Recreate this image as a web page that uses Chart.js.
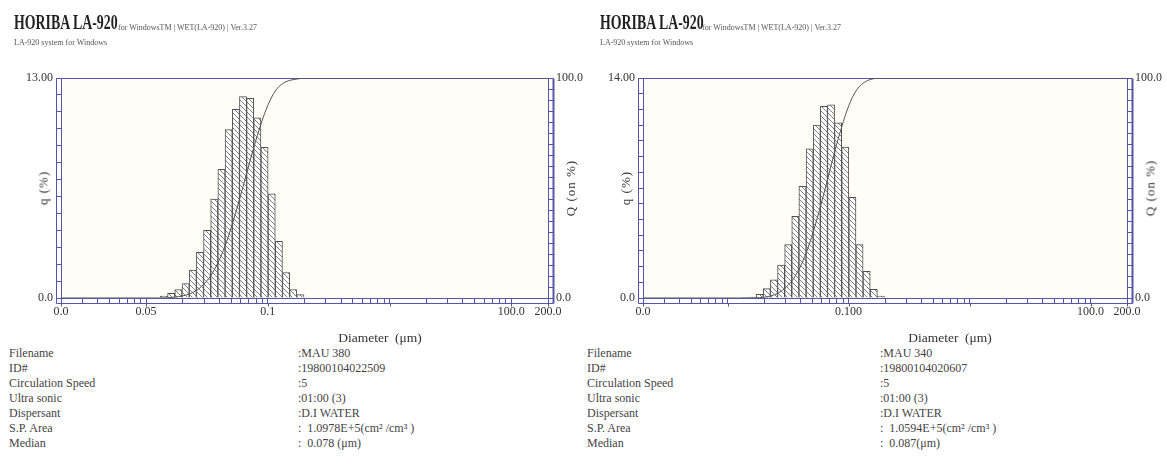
<!DOCTYPE html>
<html>
<head>
<meta charset="utf-8">
<title>HORIBA LA-920</title>
<script src="https://cdn.jsdelivr.net/npm/chart.js"></script>
<style>
  body { margin: 0; background: #fff; }
  #page { position: relative; width: 1167px; height: 466px; overflow: hidden;
          font-family: "Liberation Serif", "DejaVu Serif", serif; color: #333; }
  #page canvas { position: absolute; top: 0; }
  .t { position: absolute; white-space: pre; }
  .brand { font-size: 21px; font-weight: bold; line-height: 21px; color: #222;
           transform: scaleX(0.66); transform-origin: 0 0; }
  .sub { font-size: 8px; line-height: 8px; color: #555; }
  .axt { font-size: 13.5px; line-height: 14px; transform: translate(-50%, -50%); }
  .rot { font-size: 13px; line-height: 13px; letter-spacing: 1px;
         transform: translate(-50%, -50%) rotate(-90deg); }
  .info { font-size: 12px; line-height: 15px; color: #444; }
</style>
</head>
<body>
<div id="page">
  <canvas id="left" width="590" height="340" style="left:0"></canvas>
  <canvas id="right" width="577" height="340" style="left:590px"></canvas>

  <div class="t brand" style="left:14px;top:12px">HORIBA LA-920</div>
  <div class="t sub" style="left:118px;top:24px">for WindowsTM | WET(LA-920) | Ver.3.27</div>
  <div class="t sub" style="left:14px;top:39px">LA-920 system for Windows</div>
  <div class="t brand" style="left:600px;top:12px">HORIBA LA-920</div>
  <div class="t sub" style="left:702px;top:24px">for WindowsTM | WET(LA-920) | Ver.3.27</div>
  <div class="t sub" style="left:600px;top:39px">LA-920 system for Windows</div>

  <div class="t rot" style="left:43px;top:188px">q (%)</div>
  <div class="t rot" style="left:570px;top:188px">Q (on %)</div>
  <div class="t rot" style="left:625px;top:188px">q (%)</div>
  <div class="t rot" style="left:1150px;top:188px">Q (on %)</div>

  <div class="t axt" style="left:380px;top:338px">Diameter  (μm)</div>
  <div class="t axt" style="left:950px;top:338px">Diameter  (μm)</div>

  <div class="t info" style="left:9px;top:346px">Filename
ID#
Circulation Speed
Ultra sonic
Dispersant
S.P. Area
Median</div>
  <div class="t info" style="left:298px;top:346px">:MAU 380
:19800104022509
:5
:01:00 (3)
:D.I WATER
:  1.0978E+5(cm² /cm³ )
:  0.078 (μm)</div>
  <div class="t info" style="left:587px;top:346px">Filename
ID#
Circulation Speed
Ultra sonic
Dispersant
S.P. Area
Median</div>
  <div class="t info" style="left:880px;top:346px">:MAU 340
:19800104020607
:5
:01:00 (3)
:D.I WATER
:  1.0594E+5(cm² /cm³ )
:  0.087(μm)</div>
</div>

<script>
// channel centres (um) of the LA-920 bins that hold particles
const diam = [0.140, 0.161, 0.184, 0.211, 0.242, 0.277, 0.317, 0.363, 0.416, 0.477,
              0.546, 0.626, 0.716, 0.820, 0.939, 1.076, 1.232, 1.411, 1.616, 1.851];
// q (%) per channel
const qLeft  = [0.12, 0.28, 0.5, 0.85, 1.65, 2.7, 4.0, 5.85, 7.6, 9.95,
                11.15, 11.9, 11.8, 10.65, 8.9, 6.15, 3.35, 1.5, 0.5, 0.2];
const qRight = [0.02, 0.06, 0.23, 0.6, 1.15, 2.1, 3.4, 5.2, 7.1, 9.5,
                11.0, 12.2, 12.3, 11.15, 9.6, 6.4, 3.4, 1.7, 0.55, 0.13];
// undersize curve Q (%) at channel edges
const edges = [0.02, 0.131, 0.150, 0.172, 0.197, 0.226, 0.259, 0.296, 0.339, 0.389, 0.445,
               0.510, 0.584, 0.669, 0.766, 0.877, 1.005, 1.151, 1.318, 1.510, 1.729, 1.981, 200];
const cumLeft  = [0, 0, 0.1, 0.4, 0.9, 1.8, 3.4, 6.1, 10.1, 16.0, 23.6,
                  33.5, 44.7, 56.6, 68.4, 79.0, 87.9, 94.1, 97.4, 98.9, 99.5, 100, 100];
const cumRight = [0, 0, 0, 0.1, 0.3, 0.9, 2.1, 4.3, 7.7, 13.0, 20.3,
                  30.0, 41.3, 53.7, 66.3, 77.7, 87.5, 94.1, 97.6, 99.3, 99.9, 100, 100];
// x axis
const xMajor = [0.02, 0.1, 1, 10, 100, 200];
const xLabelsLeft  = ['0.0', '0.05', '0.1', '', '100.0', '200.0'];
const xLabelsRight = ['0.0', '', '0.100', '', '100.0', '200.0'];
const yMaxLeft = 13, yMaxRight = 14;
const yTopLeft = '13.00', yTopRight = '14.00';

const BLUE = '#5454a8';
const BAND = 5;
Chart.defaults.font.family = "'Liberation Serif', serif";
Chart.defaults.font.size = 12;
Chart.defaults.color = '#333';

const xMinor = [];
[0.01, 0.1, 1, 10, 100].forEach(d => {
  for (let m = 2; m <= 9; m++) {
    const v = +(m * d).toPrecision(3);
    if (v > 0.02 && v < 200 && xMajor.indexOf(v) < 0) xMinor.push(v);
  }
});

function hatch() {
  const c = document.createElement('canvas');
  c.width = c.height = 5;
  const g = c.getContext('2d');
  g.fillStyle = '#fff';
  g.fillRect(0, 0, 5, 5);
  g.strokeStyle = '#808080';
  g.lineWidth = 1;
  g.beginPath();
  g.moveTo(-1, -1); g.lineTo(6, 6);
  g.moveTo(4, -1); g.lineTo(6, 1);
  g.moveTo(-1, 4); g.lineTo(1, 6);
  g.stroke();
  return g.createPattern(c, 'repeat');
}

// plot background and the double-lined frame
const frame = {
  id: 'frame',
  beforeDraw(chart) {
    const { ctx, chartArea: a } = chart;
    ctx.save();
    ctx.fillStyle = '#fefef7';
    ctx.fillRect(a.left, a.top, a.right - a.left, a.bottom - a.top);
    ctx.restore();
  },
  beforeDatasetsDraw(chart) {
    const { ctx, chartArea: a } = chart;
    const x = chart.scales.x;
    const L = Math.round(a.left - BAND) + 0.5, R = Math.round(a.right + BAND) + 0.5;
    const T = Math.round(a.top) + 0.5, B = Math.round(a.bottom + BAND) + 0.5;
    ctx.save();
    ctx.strokeStyle = BLUE;
    ctx.lineWidth = 1;
    ctx.beginPath();
    ctx.moveTo(L, T); ctx.lineTo(R, T);
    ctx.moveTo(L, T); ctx.lineTo(L, B);
    ctx.moveTo(L, B); ctx.lineTo(R, B);
    xMajor.forEach(v => {
      const p = Math.round(x.getPixelForValue(v)) + 0.5;
      ctx.moveTo(p, B); ctx.lineTo(p, B + 3);
    });
    ctx.stroke();
    ctx.lineWidth = 2;
    ctx.beginPath();
    ctx.moveTo(R, T); ctx.lineTo(R, B);
    ctx.stroke();
    ctx.restore();
  }
};

function axisGrid() {
  return { drawOnChartArea: false, drawTicks: true, tickLength: BAND, tickColor: BLUE, color: BLUE };
}

function makeChart(id, q, cum, yMax, yTop, xLabels, leftW, rightW) {
  return new Chart(document.getElementById(id), {
    type: 'bar',
    data: {
      datasets: [
        {
          type: 'line',
          data: edges.map((x, i) => ({ x: x, y: cum[i] })),
          yAxisID: 'y2',
          borderColor: '#555',
          borderWidth: 1,
          pointRadius: 0,
          cubicInterpolationMode: 'monotone',
          order: 0
        },
        {
          type: 'bar',
          data: diam.map((x, i) => ({ x: x, y: q[i] })),
          yAxisID: 'y',
          backgroundColor: hatch(),
          borderColor: '#505050',
          borderWidth: 1,
          barThickness: 'flex',
          barPercentage: 1,
          categoryPercentage: 1,
          order: 1
        }
      ]
    },
    options: {
      responsive: false,
      animation: false,
      layout: { padding: { top: 78, left: 0, right: 0, bottom: 0 } },
      plugins: { legend: { display: false }, tooltip: { enabled: false } },
      scales: {
        x: {
          type: 'logarithmic',
          min: 0.02,
          max: 200,
          offset: false,
          grid: Object.assign(axisGrid(), { offset: false }),
          border: { color: BLUE },
          afterBuildTicks: s => {
            const t = xMajor.map(v => ({ value: v, major: true }))
              .concat(xMinor.map(v => ({ value: v })));
            t.sort((a, b) => a.value - b.value);
            s.ticks = t;
          },
          ticks: {
            autoSkip: false, maxRotation: 0, minRotation: 0, padding: 2,
            callback: v => { const i = xMajor.indexOf(v); return i >= 0 ? xLabels[i] : ''; }
          },
          afterFit: s => { s.height = 42; }
        },
        y: {
          position: 'left',
          min: 0,
          max: yMax,
          grid: axisGrid(),
          border: { color: BLUE },
          ticks: {
            stepSize: 1, autoSkip: false, padding: 3,
            callback: v => v === yMax ? yTop : (v === 0 ? '0.0' : '')
          },
          afterFit: s => { s.width = leftW; }
        },
        y2: {
          position: 'right',
          min: 0,
          max: 100,
          grid: axisGrid(),
          border: { color: BLUE },
          ticks: {
            stepSize: 5, autoSkip: false, padding: 3,
            callback: v => v === 100 ? '100.0' : (v === 0 ? '0.0' : '')
          },
          afterFit: s => { s.width = rightW; }
        }
      }
    },
    plugins: [frame]
  });
}

makeChart('left', qLeft, cumLeft, yMaxLeft, yTopLeft, xLabelsLeft, 61, 42);
makeChart('right', qRight, cumRight, yMaxRight, yTopRight, xLabelsRight, 53, 40);
</script>
</body>
</html>
